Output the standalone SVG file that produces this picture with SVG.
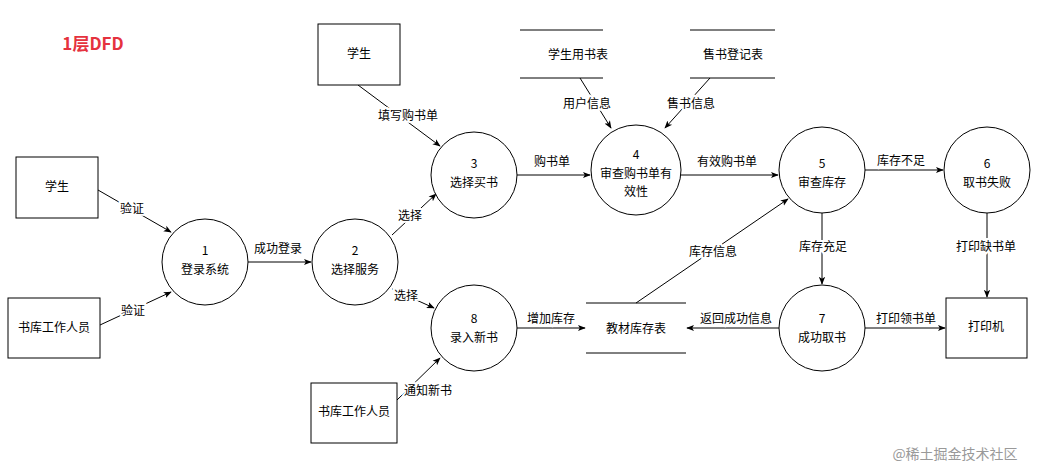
<svg xmlns="http://www.w3.org/2000/svg" width="1043" height="469" viewBox="0 0 1043 469">
<defs>
<marker id="a" viewBox="0 0 10 10" refX="9" refY="5" markerWidth="8" markerHeight="8" orient="auto"><path d="M0,1 L10,5 L0,9 L2.5,5 Z" fill="#000"/></marker>
<style>
text{font-family:"Noto Sans CJK SC","Liberation Sans",sans-serif;font-size:12px;fill:#000;text-anchor:middle;dominant-baseline:middle}
.n rect,.n circle{fill:#fff;stroke:#000;stroke-width:1}
.s line{stroke:#000;stroke-width:1}
#edges line{stroke:#000;stroke-width:1;marker-end:url(#a)}
.l{paint-order:stroke;stroke:#fff;stroke-width:4px}
</style>
</defs>
<rect width="1043" height="469" fill="#fff"/>
<text x="93" y="45" style="fill:#e5323e;font-size:17px;font-weight:bold">1层DFD</text>
<g id="edges">
<line x1="98" y1="190" x2="171" y2="232"/>
<line x1="100" y1="325" x2="171" y2="292"/>
<line x1="248" y1="262" x2="311" y2="262"/>
<line x1="392" y1="235" x2="436" y2="194"/>
<line x1="392" y1="289" x2="434" y2="308"/>
<line x1="358" y1="85" x2="440" y2="146"/>
<line x1="517" y1="175" x2="590" y2="175"/>
<line x1="580" y1="78" x2="611" y2="128"/>
<line x1="710" y1="78" x2="665" y2="128"/>
<line x1="681" y1="175" x2="778" y2="175"/>
<line x1="865" y1="170" x2="943" y2="170"/>
<line x1="987" y1="213" x2="987" y2="297"/>
<line x1="822" y1="213" x2="822" y2="284"/>
<line x1="865" y1="328" x2="945" y2="328"/>
<line x1="779" y1="328" x2="687" y2="328"/>
<line x1="517" y1="328" x2="585" y2="328"/>
<line x1="636" y1="303" x2="788" y2="199"/>
<line x1="397" y1="400" x2="440" y2="358"/>
</g>
<g id="elabels">
<text class="l" x="132" y="210">验证</text>
<text class="l" x="133" y="312">验证</text>
<text class="l" x="278" y="250">成功登录</text>
<text class="l" x="410" y="217">选择</text>
<text class="l" x="406" y="297">选择</text>
<text class="l" x="408" y="117">填写购书单</text>
<text class="l" x="552" y="163">购书单</text>
<text class="l" x="587" y="105">用户信息</text>
<text class="l" x="691" y="105">售书信息</text>
<text class="l" x="727" y="163">有效购书单</text>
<text class="l" x="901" y="162">库存不足</text>
<text class="l" x="986" y="248">打印缺书单</text>
<text class="l" x="823" y="248">库存充足</text>
<text class="l" x="906" y="320">打印领书单</text>
<text class="l" x="736" y="320">返回成功信息</text>
<text class="l" x="551" y="320">增加库存</text>
<text class="l" x="713" y="253">库存信息</text>
<text class="l" x="428" y="392">通知新书</text>
</g>
<g id="ext1" class="n"><rect x="16" y="157" width="82" height="61"/><text x="57" y="188">学生</text></g>
<g id="ext2" class="n"><rect x="8" y="298" width="92" height="60"/><text x="54" y="329">书库工作人员</text></g>
<g id="ext3" class="n"><rect x="318" y="24" width="82" height="61"/><text x="359" y="55">学生</text></g>
<g id="ext4" class="n"><rect x="311" y="383" width="86" height="60"/><text x="354" y="413">书库工作人员</text></g>
<g id="ext5" class="n"><rect x="946" y="298" width="81" height="60"/><text x="986" y="328">打印机</text></g>
<g id="p1" class="n"><circle cx="205" cy="262" r="43"/><text x="205" y="252">1</text><text x="205" y="271">登录系统</text></g>
<g id="p2" class="n"><circle cx="355" cy="262" r="43"/><text x="355" y="252">2</text><text x="355" y="271">选择服务</text></g>
<g id="p3" class="n"><circle cx="474" cy="175" r="43"/><text x="474" y="165">3</text><text x="474" y="184">选择买书</text></g>
<g id="p4" class="n"><circle cx="636" cy="170" r="45"/><text x="636" y="156">4</text><text x="636" y="175">审查购书单有</text><text x="636" y="193">效性</text></g>
<g id="p5" class="n"><circle cx="822" cy="170" r="43"/><text x="822" y="165">5</text><text x="822" y="184">审查库存</text></g>
<g id="p6" class="n"><circle cx="987" cy="170" r="43"/><text x="987" y="165">6</text><text x="987" y="184">取书失败</text></g>
<g id="p7" class="n"><circle cx="822" cy="328" r="43"/><text x="822" y="320">7</text><text x="822" y="339">成功取书</text></g>
<g id="p8" class="n"><circle cx="474" cy="328" r="43"/><text x="474" y="320">8</text><text x="474" y="339">录入新书</text></g>
<g id="ds1" class="s"><line x1="520" y1="30" x2="603" y2="30"/><line x1="520" y1="78" x2="603" y2="78"/><text x="578" y="56">学生用书表</text></g>
<g id="ds2" class="s"><line x1="690" y1="30" x2="775" y2="30"/><line x1="690" y1="78" x2="775" y2="78"/><text x="733" y="56">售书登记表</text></g>
<g id="ds3" class="s"><line x1="586" y1="303" x2="686" y2="303"/><line x1="586" y1="353" x2="686" y2="353"/><text x="636" y="330">教材库存表</text></g>
<text x="955" y="455" style="fill:#999;font-size:14px">@稀土掘金技术社区</text>
</svg>
